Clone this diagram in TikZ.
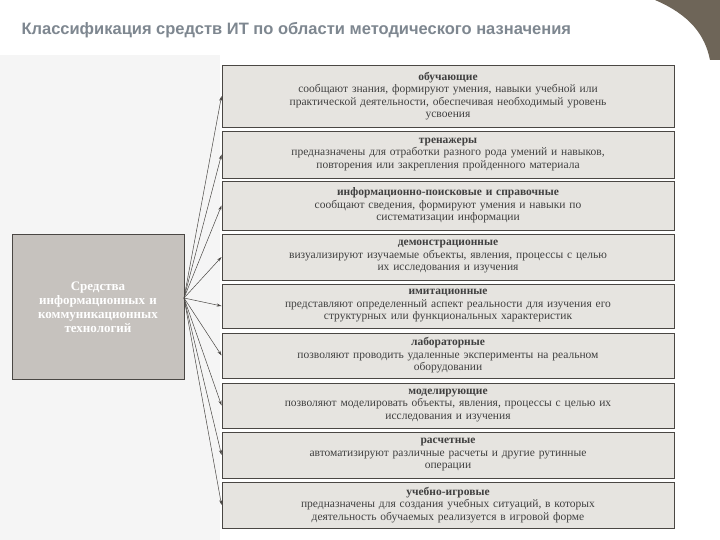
\documentclass[tikz,border=0pt]{standalone}
\usepackage{fontspec}
\setmainfont{Liberation Serif}
\newfontfamily\titlefont{Liberation Sans}
\usetikzlibrary{arrows.meta}
\definecolor{boxfill}{HTML}{E6E4E0}
\definecolor{mainfill}{HTML}{C6C2BE}
\definecolor{edge}{HTML}{4A4744}
\definecolor{titlec}{HTML}{7E8790}
\definecolor{corner}{HTML}{6E6558}
\newcommand\myitemfont{\fontsize{11.5}{12.5}\selectfont\spaceskip=0.55em plus 0.2em minus 0.1em\relax}
\tikzset{
 item/.style={draw=edge, line width=0.9pt, fill=boxfill, minimum width=452pt, text width=425pt, align=center, inner sep=1pt, font=\myitemfont, text=black!75},
 arr/.style={-{Stealth[length=5pt,width=3pt]}, draw=edge, line width=0.5pt}
}
\begin{document}
\begin{tikzpicture}[x=1pt,y=-1pt]
\useasboundingbox (0,0) rectangle (720,540);
\fill[white] (0,0) rectangle (720,540);
\fill[black!4] (0,55) rectangle (220,540);
\fill[corner] (655,0) .. controls (690,15) and (705,35) .. (710,60) -- (720,60) -- (720,0) -- cycle;
\node[anchor=west, text=titlec, font=\titlefont\bfseries\fontsize{16.5}{18}\selectfont] (title) at (18,30) {Классификация средств ИТ по области методического назначения};
\node[draw=edge, line width=1pt, fill=mainfill, minimum width=172pt, minimum height=145pt, text width=165pt, align=center, text=white, font=\bfseries\fontsize{13}{14}\selectfont] (main) at (98,307) {Средства\\информационных и\\коммуникационных\\технологий};
\coordinate (src) at (184,298);
\node[item, minimum height=62pt] (b1) at (448,96) {\textbf{обучающие}\\сообщают знания, формируют умения, навыки учебной или\\практической деятельности, обеспечивая необходимый уровень\\усвоения};
\node[item, minimum height=47pt] (b2) at (448,154.5) {\textbf{тренажеры}\\предназначены для отработки разного рода умений и навыков,\\повторения или закрепления пройденного материала};
\node[item, minimum height=49pt] (b3) at (448,205.5) {\textbf{информационно-поисковые и справочные}\\сообщают сведения, формируют умения и навыки по\\систематизации информации};
\node[item, minimum height=46pt] (b4) at (448,257) {\textbf{демонстрационные}\\визуализируют изучаемые объекты, явления, процессы с целью\\их исследования и изучения};
\node[item, minimum height=44pt] (b5) at (448,306) {\textbf{имитационные}\\представляют определенный аспект реальности для изучения его\\структурных или функциональных характеристик};
\node[item, minimum height=45pt] (b6) at (448,355.5) {\textbf{лабораторные}\\позволяют проводить удаленные эксперименты на реальном\\оборудовании};
\node[item, minimum height=45pt] (b7) at (448,405.5) {\textbf{моделирующие}\\позволяют моделировать объекты, явления, процессы с целью их\\исследования и изучения};
\node[item, minimum height=46pt] (b8) at (448,455) {\textbf{расчетные}\\автоматизируют различные расчеты и другие рутинные\\операции};
\node[item, minimum height=46pt] (b9) at (448,505) {\textbf{учебно-игровые}\\предназначены для создания учебных ситуаций, в которых\\деятельность обучаемых реализуется в игровой форме};
\foreach \b in {b1,b2,b3,b4,b5,b6,b7,b8,b9} \draw[arr] (src) -- (\b.west);
\end{tikzpicture}
\end{document}
